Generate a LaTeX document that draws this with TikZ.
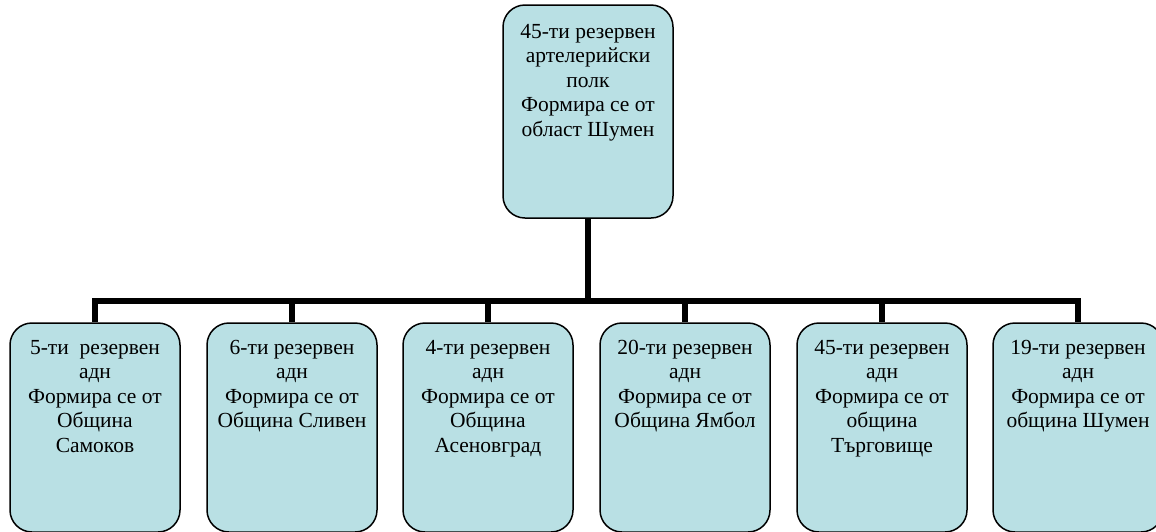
\documentclass[tikz,border=0pt]{standalone}
\usepackage{fontspec}
\setmainfont{Liberation Serif}
\definecolor{boxfill}{RGB}{185,224,228}
\tikzset{
  unitbox/.style={draw=black, line width=1.5pt, fill=boxfill, rounded corners=22pt,
    minimum width=170pt, inner sep=0pt, font=\fontsize{21.5pt}{24.5pt}\selectfont},
  conn/.style={draw=black, line width=6pt, line join=miter, line cap=butt},
}
\newcommand{\boxtext}[2]{\parbox[c][#1][t]{166pt}{\centering\vspace*{17pt}#2}}
\begin{document}
\begin{tikzpicture}[x=1pt,y=-1pt]
\useasboundingbox (0,0) rectangle (1156,531);
\clip (0,0) rectangle (1156,531);
\node[unitbox, minimum height=213pt] (top) at (588,111.5)
  {\boxtext{213pt}{\vspace*{2pt}45-ти резервен\\артелерийски\\полк\\Формира се от\\област Шумен}};
\node[unitbox, minimum height=209pt] (b1) at (95,427.5)
  {\boxtext{209pt}{5-ти~~резервен\\адн\\Формира се от\\Община\\Самоков}};
\node[unitbox, minimum height=209pt] (b2) at (292,427.5)
  {\boxtext{209pt}{6-ти резервен\\адн\\Формира се от\\Община Сливен}};
\node[unitbox, minimum height=209pt] (b3) at (488,427.5)
  {\boxtext{209pt}{4-ти резервен\\адн\\Формира се от\\Община\\Асеновград}};
\node[unitbox, minimum height=209pt] (b4) at (685,427.5)
  {\boxtext{209pt}{20-ти резервен\\адн\\Формира се от\\Община Ямбол}};
\node[unitbox, minimum height=209pt] (b5) at (882,427.5)
  {\boxtext{209pt}{45-ти резервен\\адн\\Формира се от\\община\\Търговище}};
\node[unitbox, minimum height=209pt] (b6) at (1078,427.5)
  {\boxtext{209pt}{19-ти резервен\\адн\\Формира се от\\община Шумен}};
\coordinate (bar) at (588,301);
\draw[conn] (b1.north) -- (b1.north |- bar) -- (b6.north |- bar) -- (b6.north);
\draw[conn] (top.south) -- (top.south |- bar);
\foreach \n in {b2,b3,b4,b5}
  \draw[conn] (\n.north) -- (\n.north |- bar);
\end{tikzpicture}
\end{document}
